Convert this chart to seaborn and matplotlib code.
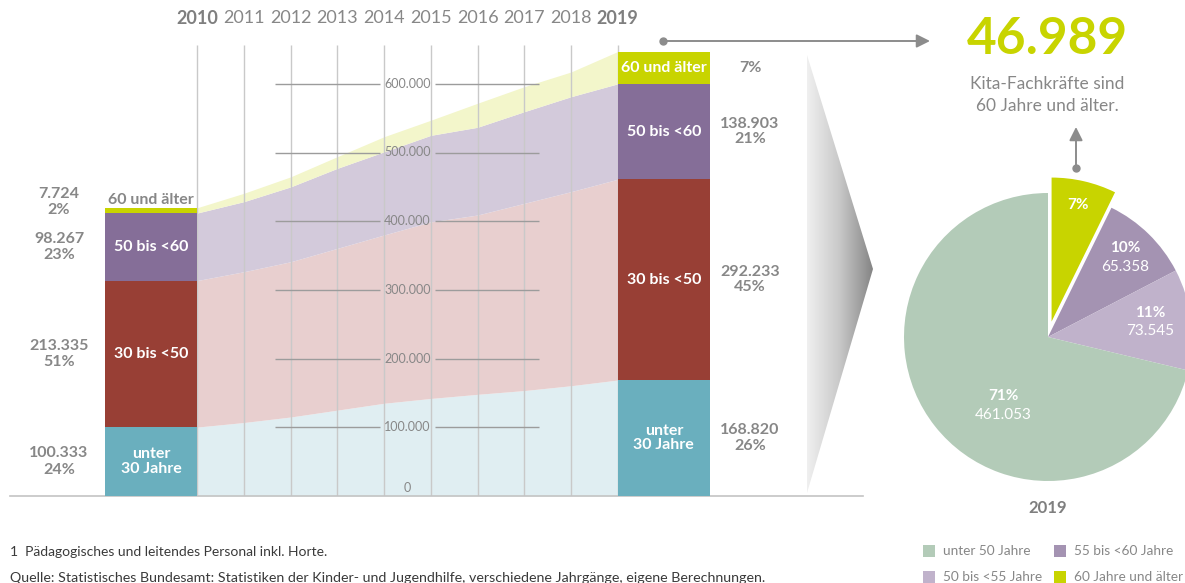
import numpy as np
import pandas as pd
import matplotlib
matplotlib.use("Agg")
import matplotlib.pyplot as plt
import seaborn as sns
from matplotlib import font_manager
from matplotlib.colors import LinearSegmentedColormap
from matplotlib.patches import Polygon, Rectangle

# ---------------------------------------------------------------- data
years = [2010, 2011, 2012, 2013, 2014, 2015, 2016, 2017, 2018, 2019]
under_30 = [100333, 107000, 115000, 125000, 135000, 142000, 148000, 153500, 160500, 168820]
age_30_50 = [213335, 219500, 226000, 235500, 245000, 257000, 261000, 272500, 282500, 292233]
age_50_60 = [98267, 102000, 109000, 116500, 121000, 126000, 127700, 133400, 138200, 138903]
age_60_plus = [7724, 12200, 14600, 17000, 22000, 22000, 35000, 36400, 36000, 46989]

segment_labels = ["unter\n30 Jahre", "30 bis <50", "50 bis <60", "60 und älter"]
bar_colors = ["#6aafbe", "#983f35", "#856e98", "#c8d400"]
area_colors = ["#e0eef2", "#e8cfcf", "#d3cadb", "#f3f6cb"]

y_ticks = [0, 100000, 200000, 300000, 400000, 500000, 600000]

pie_labels = ["60 Jahre und älter", "55 bis <60 Jahre", "50 bis <55 Jahre", "unter 50 Jahre"]
pie_values = [46989, 65358, 73545, 461053]
pie_colors = ["#c8d400", "#a493b2", "#c0b2cb", "#b3cbb8"]

headline_text = "Kita-Fachkräfte sind\n60 Jahre und älter."
footnote = "1  Pädagogisches und leitendes Personal inkl. Horte."
source = ("Quelle: Statistisches Bundesamt: Statistiken der Kinder- und Jugendhilfe, "
          "verschiedene Jahrgänge, eigene Berechnungen.")

# ---------------------------------------------------------------- style
sns.set_theme(style="white")
plt.rcParams["font.family"] = ["Lato", "DejaVu Sans"]
GRAY = "#878787"
available = {f.name for f in font_manager.fontManager.ttflist}
if "Liberation Sans Narrow" in available:
    year_font, year_size = ["Liberation Sans Narrow", "DejaVu Sans"], 14.5
else:
    year_font, year_size = ["Lato", "DejaVu Sans"], 13


def de(n):
    return f"{n:,}".replace(",", ".")


df = pd.DataFrame({"u30": under_30, "a30": age_30_50, "a50": age_50_60, "a60": age_60_plus},
                  index=years)
tops = df.cumsum(axis=1)
bottoms = tops - df

W, H = 1185, 583
fig = plt.figure(figsize=(W / 100, H / 100), dpi=100)

# geometry of the main panel (pixels)
X0_PX, PX_PER_YEAR = 197.3, 46.71
BASE_PX, PX_PER_VAL = 496.0, 68.7 / 100000
LEFT_PX, RIGHT_PX = 10, 863
BAR_W = 1.975


def val(px_y):
    return (BASE_PX - px_y) / PX_PER_VAL


def xd(px_x):
    return (px_x - X0_PX) / PX_PER_YEAR


ax = fig.add_axes([LEFT_PX / W, (H - BASE_PX) / H, (RIGHT_PX - LEFT_PX) / W, BASE_PX / H])
ax.set_xlim(xd(LEFT_PX), xd(RIGHT_PX))
ax.set_ylim(0, val(0))
ax.set_facecolor("none")
ax.set_xticks([])
ax.set_yticks([])
for side in ["top", "left", "right"]:
    ax.spines[side].set_visible(False)
ax.spines["bottom"].set_color("#c4c4c4")
ax.spines["bottom"].set_linewidth(1.2)

xs = np.arange(len(years))
cols = list(df.columns)

# stacked areas between the two bars
for i, c in enumerate(cols):
    ax.fill_between(xs, bottoms[c].values, tops[c].values, color=area_colors[i], lw=0, zorder=1)

# year grid
ax.vlines(xs, 0, val(45), color="#c9c9c9", lw=1, zorder=2)
for i, y in enumerate(years):
    bold = y in (years[0], years[-1])
    ax.text(i, val(18), str(y), ha="center", va="center", fontsize=year_size,
            family=year_font, color="#7f7f7f" if bold else GRAY,
            fontweight="bold" if bold else "normal")

# value guide lines with centred labels
mid = 4.5
for t in y_ticks:
    if t == 0:
        ax.text(mid, val(488), "0", ha="center", va="center", fontsize=9, color=GRAY, zorder=4)
        continue
    ax.hlines(t, xd(275), xd(380), color="#9c9c9c", lw=1, zorder=2)
    ax.hlines(t, xd(435), xd(539), color="#9c9c9c", lw=1, zorder=2)
    ax.text(mid, t, de(t), ha="center", va="center", fontsize=9, color=GRAY, zorder=4)

# stacked bars for first and last year
bar_pos = {0: -BAR_W, len(years) - 1: len(years) - 1}
for idx, left in bar_pos.items():
    for i, c in enumerate(cols):
        ax.bar(left, df[c].iloc[idx], bottom=bottoms[c].iloc[idx], width=BAR_W, align="edge",
               color=bar_colors[i], lw=0, zorder=3)

total_first = df.iloc[0].sum()
total_last = df.iloc[-1].sum()

# labels on the 2010 bar
cx0 = -BAR_W / 2
for i, c in enumerate(cols[:3]):
    ymid = (bottoms[c].iloc[0] + tops[c].iloc[0]) / 2
    ax.text(cx0, ymid, segment_labels[i], ha="center", va="center", color="white",
            fontsize=11.5, fontweight="bold", linespacing=1.05, zorder=5)
ax.text(cx0, tops["a60"].iloc[0] + val(495), segment_labels[3], ha="center", va="bottom",
        color=GRAY, fontsize=11.5, fontweight="bold", zorder=5)

lx = xd(59)
for i, c in enumerate(cols):
    v = df[c].iloc[0]
    ymid = (bottoms[c].iloc[0] + tops[c].iloc[0]) / 2
    if c == "a60":
        ymid = val(202)
    ax.text(lx, ymid, f"{de(v)}\n{round(100 * v / total_first)}%", ha="center", va="center",
            color=GRAY, fontsize=11.5, fontweight="bold", linespacing=1.2)

# labels on the 2019 bar
cx1 = len(years) - 1 + BAR_W / 2
for i, c in enumerate(cols):
    ymid = (bottoms[c].iloc[-1] + tops[c].iloc[-1]) / 2
    ax.text(cx1, ymid, segment_labels[i], ha="center", va="center", color="white",
            fontsize=11.5, fontweight="bold", linespacing=1.05, zorder=5)

rx = xd(750)
for i, c in enumerate(cols):
    v = df[c].iloc[-1]
    ymid = (bottoms[c].iloc[-1] + tops[c].iloc[-1]) / 2
    pct = f"{round(100 * v / total_last)}%"
    txt = pct if c == "a60" else f"{de(v)}\n{pct}"
    ax.text(rx, ymid, txt, ha="center", va="center", color=GRAY, fontsize=11.5,
            fontweight="bold", linespacing=1.15)

# ---------------------------------------------------------------- pie
R_PX = 144
PCX, PCY = 1048, 337
side = 2.4 * R_PX
pax = fig.add_axes([(PCX - side / 2) / W, (H - PCY - side / 2) / H, side / W, side / H])
pax.pie(pie_values, colors=pie_colors, startangle=90, counterclock=False,
        explode=[0.11, 0, 0, 0], radius=1, wedgeprops=dict(linewidth=0))
pax.set_xlim(-1.2, 1.2)
pax.set_ylim(-1.2, 1.2)
pax.set_aspect("equal")
pax.axis("off")

pie_total = sum(pie_values)
label_xy = [(0.21, 0.92), (0.535, 0.552), (0.708, 0.104), (-0.31, -0.476)]
for i, (v, (px_, py_)) in enumerate(zip(pie_values, label_xy)):
    pct = f"{round(100 * v / pie_total)}%"
    if i == 0:
        pax.text(px_, py_, pct, ha="center", va="center", color="white", fontsize=11,
                 fontweight="bold")
    else:
        pax.text(px_, py_ + 0.065, pct, ha="center", va="center", color="white", fontsize=11,
                 fontweight="bold")
        pax.text(px_, py_ - 0.065, de(v), ha="center", va="center", color="white", fontsize=11)

# ---------------------------------------------------------------- overlay
ov = fig.add_axes([0, 0, 1, 1], zorder=5)
ov.set_xlim(0, W)
ov.set_ylim(H, 0)
ov.set_facecolor("none")
ov.axis("off")

# gradient chevron pointing to the pie
chev = Polygon([(807, 55), (873, 269), (807, 493)], closed=True, fc="none", ec="none")
ov.add_patch(chev)
cmap = LinearSegmentedColormap.from_list("chev", ["#f0f0f0", "#c8c8c8", "#858585"])
grad = np.linspace(0, 1, 256).reshape(1, -1)
im = ov.imshow(grad, extent=[807, 873, 493, 55], cmap=cmap, aspect="auto", zorder=1)
im.set_clip_path(chev)
ov.set_xlim(0, W)
ov.set_ylim(H, 0)

arrow_kw = dict(arrowstyle="-|>", color="#8c8c8c", lw=1.4, mutation_scale=20,
                shrinkA=0, shrinkB=0)
ov.annotate("", xy=(930, 41), xytext=(663, 41), arrowprops=arrow_kw)
ov.plot([663], [41], "o", color="#8c8c8c", ms=5)
ov.annotate("", xy=(1076, 127), xytext=(1076, 168), arrowprops=arrow_kw)
ov.plot([1076], [168], "o", color="#8c8c8c", ms=5)

ov.text(1047, 40, de(age_60_plus[-1]), ha="center", va="center", fontsize=37,
        fontweight="bold", color="#c8d400")
ov.text(1047, 95, headline_text, ha="center", va="center", fontsize=12.5, color=GRAY,
        linespacing=1.4)

ov.text(1048, 508, str(years[-1]), ha="center", va="center", fontsize=12, fontweight="bold",
        color="#7f7f7f")

# legend of the pie
legend_order = [3, 1, 2, 0]
legend_xy = [(923, 551), (1054, 551), (923, 577), (1054, 577)]
for k, (lx_, ly_) in zip(legend_order, legend_xy):
    ov.add_patch(Rectangle((lx_, ly_ - 6), 12, 12, color=pie_colors[k], lw=0))
    ov.text(lx_ + 20, ly_, pie_labels[k], ha="left", va="center", fontsize=9.8, color=GRAY)

ov.text(10, 552, footnote, ha="left", va="center", fontsize=10, color="#3a3a3a")
ov.text(10, 578, source, ha="left", va="center", fontsize=10.3, color="#3a3a3a")

fig.savefig("out.png", dpi=100)
